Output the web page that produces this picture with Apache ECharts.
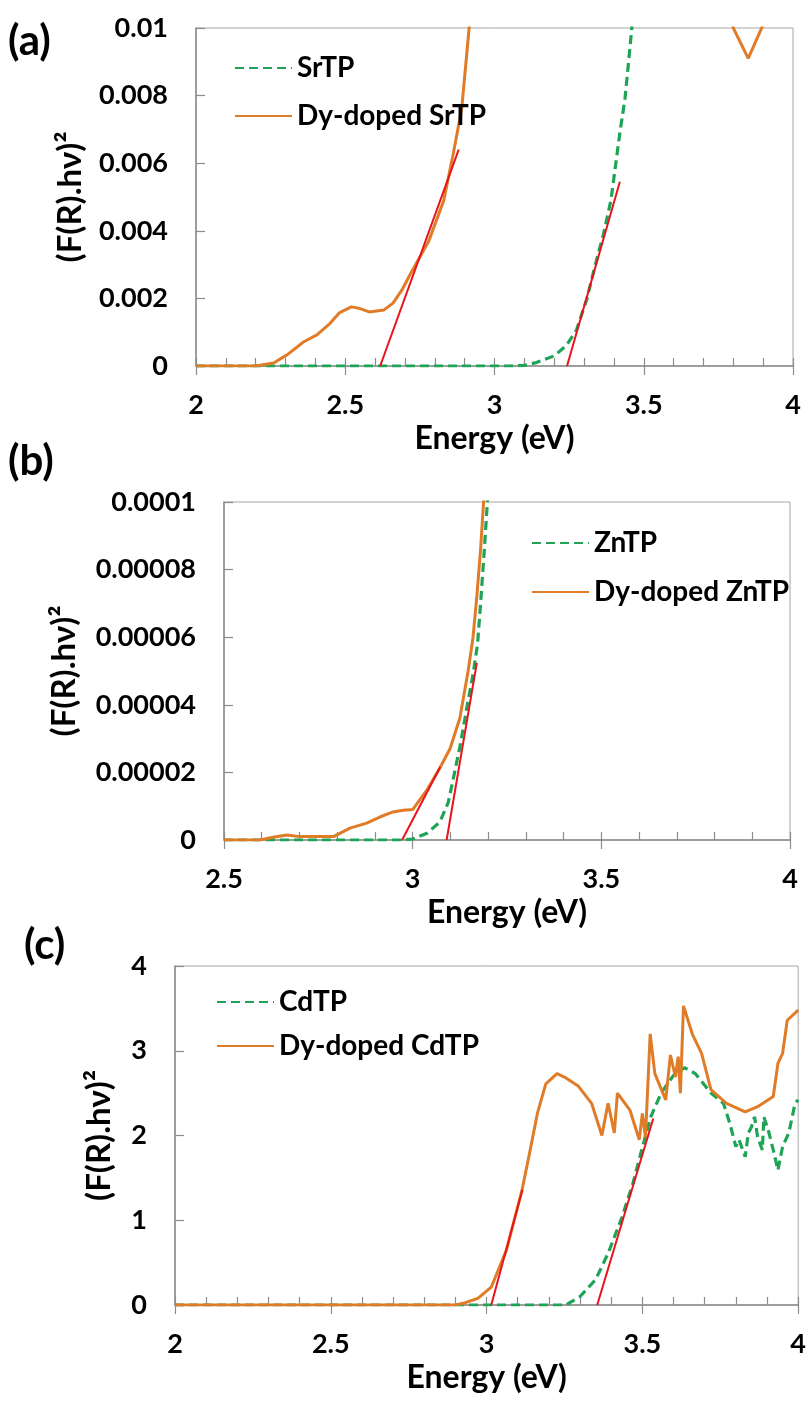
<!DOCTYPE html>
<html>
<head>
<meta charset="utf-8">
<style>
  html, body { margin: 0; padding: 0; background: #fff; }
  #chart { width: 809px; height: 1401px; }
</style>
<script src="https://cdn.jsdelivr.net/npm/echarts@6/dist/echarts.min.js"></script>
</head>
<body>
<div id="chart"></div>
<script>
  // panel (a) - SrTP
  const srtpE = [2.0, 3.05, 3.10, 3.14, 3.20, 3.24, 3.275, 3.31, 3.335, 3.365, 3.39, 3.405, 3.42, 3.437, 3.447, 3.46, 3.475];
  const srtpF = [0, 0, 0.00002, 0.0001, 0.0003, 0.0006, 0.00107, 0.002, 0.0029, 0.0039, 0.0049, 0.0059, 0.0069, 0.0079, 0.0088, 0.01, 0.0115];
  const dySrtpE = [2.0, 2.2, 2.26, 2.305, 2.36, 2.405, 2.45, 2.48, 2.52, 2.55, 2.58, 2.63, 2.66, 2.69, 2.72, 2.78, 2.83, 2.86, 2.89, 2.915, 2.95, 3.1, 3.4, 3.7, 3.78, 3.8, 3.85, 3.88, 3.9, 3.95, 4.0];
  const dySrtpF = [0, 0, 0.00009, 0.00033, 0.00071, 0.00092, 0.00127, 0.00157, 0.00175, 0.0017, 0.0016, 0.00166, 0.00186, 0.00225, 0.00275, 0.0037, 0.0049, 0.0062, 0.0076, 0.01, 0.0125, 0.02, 0.03, 0.016, 0.0108, 0.01, 0.0091, 0.0097, 0.0101, 0.0115, 0.013];
  const tanA1E = [2.617, 2.88], tanA1F = [0, 0.0064];
  const tanA2E = [3.243, 3.42], tanA2F = [0, 0.00545];

  // panel (b) - ZnTP
  const zntpE = [2.5, 2.97, 3.0, 3.038, 3.072, 3.094, 3.107, 3.125, 3.144, 3.16, 3.172, 3.18, 3.19, 3.198, 3.21];
  const zntpF = [0, 0, 0.0000003, 0.000002, 0.0000053, 0.000011, 0.0000178, 0.0000275, 0.0000394, 0.000049, 0.000058, 0.00007, 0.000086, 0.0001, 0.00012];
  const dyZntpE = [2.5, 2.595, 2.63, 2.667, 2.7, 2.79, 2.834, 2.878, 2.913, 2.948, 2.975, 3.0, 3.038, 3.072, 3.099, 3.125, 3.147, 3.16, 3.17, 3.18, 3.188, 3.2];
  const dyZntpF = [0, 0, 0.0000008, 0.0000015, 0.000001, 0.000001, 0.0000035, 0.000005, 0.0000068, 0.0000083, 0.0000088, 0.000009, 0.0000148, 0.0000213, 0.000027, 0.000036, 0.00005, 0.00006, 0.000072, 0.000086, 0.0001, 0.00012];
  const tanB1E = [2.972, 3.073], tanB1F = [0, 0.0000216];
  const tanB2E = [3.09, 3.17], tanB2F = [0, 0.0000524];

  // panel (c) - CdTP
  const cdtpE = [2.0, 3.0, 3.254, 3.3, 3.35, 3.39, 3.435, 3.47, 3.5, 3.527, 3.56, 3.6, 3.635, 3.67, 3.72, 3.76, 3.78, 3.8, 3.81, 3.83, 3.84, 3.85, 3.86, 3.87, 3.885, 3.89, 3.905, 3.92, 3.935, 3.95, 3.97, 3.99, 4.0];
  const cdtpF = [0, 0, 0, 0.1, 0.3, 0.61, 1.04, 1.44, 1.86, 2.22, 2.5, 2.71, 2.8, 2.73, 2.5, 2.38, 2.15, 1.87, 1.95, 1.75, 2.03, 2.1, 2.22, 1.98, 1.83, 2.22, 2.05, 1.83, 1.59, 1.87, 2.03, 2.38, 2.42];
  const dyCdtpE = [2.0, 2.9, 2.925, 2.973, 3.015, 3.064, 3.114, 3.14, 3.163, 3.19, 3.226, 3.25, 3.295, 3.337, 3.37, 3.39, 3.41, 3.42, 3.46, 3.49, 3.5, 3.51, 3.525, 3.54, 3.575, 3.59, 3.606, 3.615, 3.622, 3.632, 3.66, 3.69, 3.72, 3.77, 3.83, 3.87, 3.92, 3.935, 3.95, 3.965, 4.0];
  const dyCdtpF = [0, 0, 0.02, 0.08, 0.21, 0.65, 1.36, 1.83, 2.26, 2.61, 2.73, 2.69, 2.58, 2.38, 2.0, 2.38, 2.03, 2.5, 2.3, 1.95, 2.26, 1.98, 3.2, 2.73, 2.42, 2.95, 2.69, 2.93, 2.5, 3.53, 3.2, 2.97, 2.54, 2.38, 2.28, 2.34, 2.46, 2.85, 2.97, 3.36, 3.48];
  const tanC1E = [3.015, 3.115], tanC1F = [0, 1.36];
  const tanC2E = [3.355, 3.535], tanC2F = [0, 2.2];

  const FONT = "Lato";
  const ORANGE = "#e07b28";
  const GREEN = "#1fa356";
  const RED = "#e8141c";
  const AXIS = "#8c8c8c";

  const zip = (xs, ys) => xs.map((x, i) => [x, ys[i]]);
  const yName = "(F(R).h\u03bd)\u00b2";

  const fmtY = (v) => String(+v.toFixed(6));

  const mkX = (grid, min, max) => [
    {
      type: "value", gridIndex: grid, min: min, max: max, interval: 0.5, position: "bottom",
      name: "Energy (eV)", nameLocation: "middle", nameGap: 57,
      nameTextStyle: { fontFamily: FONT, fontWeight: "bold", fontSize: 32, color: "#000" },
      axisLine: { show: true, lineStyle: { color: AXIS, width: 1.5 } },
      axisTick: { show: true, inside: true, length: 8, lineStyle: { color: AXIS, width: 1.2 } },
      minorTick: { show: true, splitNumber: 5, length: 8, lineStyle: { color: AXIS, width: 1.2 } },
      axisLabel: { margin: 26, fontFamily: FONT, fontWeight: "bold", fontSize: 27, color: "#000" },
      splitLine: { show: false },
    },
    {
      type: "value", gridIndex: grid, min: min, max: max, interval: 0.5, position: "bottom",
      axisLine: { show: false },
      axisTick: { show: true, inside: false, length: 9, lineStyle: { color: AXIS, width: 1.2 } },
      axisLabel: { show: false },
      splitLine: { show: false },
    },
  ];

  const mkY = (grid, max, interval, gap) => ({
    type: "value", gridIndex: grid, min: 0, max: max, interval: interval,
    name: yName, nameLocation: "middle", nameGap: gap,
    nameTextStyle: { fontFamily: FONT, fontWeight: "bold", fontSize: 33, color: "#000" },
    axisLine: { show: true, lineStyle: { color: AXIS, width: 1.5 } },
    axisTick: { show: true, inside: true, length: 9, lineStyle: { color: AXIS, width: 1.2 } },
    axisLabel: { margin: 28, fontFamily: FONT, fontWeight: "bold", fontSize: 27, color: "#000", formatter: fmtY },
    splitLine: { show: false },
  });

  const curve = (name, data, xi, yi, dashed) => ({
    name: name, type: "line", xAxisIndex: xi, yAxisIndex: yi, data: data,
    symbol: "none", smooth: false, z: dashed ? 2 : 3,
    lineStyle: dashed
      ? { color: GREEN, width: 3.2, type: [9, 5] }
      : { color: ORANGE, width: 3 },
    itemStyle: { color: dashed ? GREEN : ORANGE },
  });

  const tangent = (data, xi, yi) => ({
    type: "line", xAxisIndex: xi, yAxisIndex: yi, data: data,
    symbol: "none", z: 4, silent: true,
    lineStyle: { color: RED, width: 2 },
  });

  const legendStyle = (names, left, top, gap) => ({
    data: names, orient: "vertical", left: left, top: top, itemGap: gap,
    itemWidth: 57, itemHeight: 14,
    itemStyle: { opacity: 0 },
    textStyle: { fontFamily: FONT, fontWeight: "bold", fontSize: 28, color: "#000", lineHeight: 30 },
  });

  const panelLabel = (text, x, y) => ({
    type: "text", left: x, top: y,
    style: { text: text, font: "bold 42px " + FONT, fill: "#000" },
  });

  const chart = echarts.init(document.getElementById("chart"), null, { renderer: "canvas" });

  const option = {
    animation: false,
    backgroundColor: "#fff",
    grid: [
      { left: 196, top: 28, width: 597, height: 338, show: true, borderColor: "#a6a6a6", borderWidth: 1 },
      { left: 224, top: 502, width: 566, height: 338, show: true, borderColor: "#a6a6a6", borderWidth: 1 },
      { left: 175, top: 966, width: 625, height: 339, show: true, borderColor: "#a6a6a6", borderWidth: 1 },
    ],
    xAxis: [...mkX(0, 2, 4), ...mkX(1, 2.5, 4), ...mkX(2, 2, 4)],
    yAxis: [mkY(0, 0.01, 0.002, 109), mkY(1, 0.0001, 0.00002, 143), mkY(2, 4, 1, 59)],
    legend: [
      legendStyle(["SrTP", "Dy-doped SrTP"], 229, 48, 18),
      legendStyle(["ZnTP", "Dy-doped ZnTP"], 526, 523, 19),
      legendStyle(["CdTP", "Dy-doped CdTP"], 211, 982, 14),
    ],
    graphic: [
      panelLabel("(a)", 8, 20),
      panelLabel("(b)", 8, 440),
      panelLabel("(c)", 24, 924),
    ],
    series: [
      curve("SrTP", zip(srtpE, srtpF), 0, 0, true),
      curve("Dy-doped SrTP", zip(dySrtpE, dySrtpF), 0, 0, false),
      tangent(zip(tanA1E, tanA1F), 0, 0),
      tangent(zip(tanA2E, tanA2F), 0, 0),

      curve("ZnTP", zip(zntpE, zntpF), 2, 1, true),
      curve("Dy-doped ZnTP", zip(dyZntpE, dyZntpF), 2, 1, false),
      tangent(zip(tanB1E, tanB1F), 2, 1),
      tangent(zip(tanB2E, tanB2F), 2, 1),

      curve("CdTP", zip(cdtpE, cdtpF), 4, 2, true),
      curve("Dy-doped CdTP", zip(dyCdtpE, dyCdtpF), 4, 2, false),
      tangent(zip(tanC1E, tanC1F), 4, 2),
      tangent(zip(tanC2E, tanC2F), 4, 2),
    ],
  };

  chart.setOption(option);
</script>
</body>
</html>
